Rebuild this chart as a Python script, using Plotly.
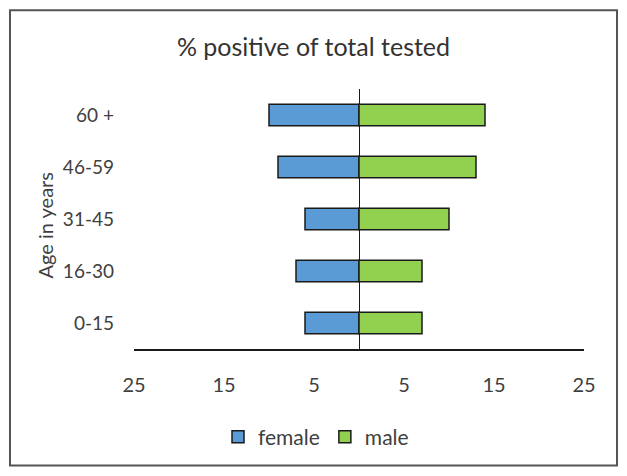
import plotly.graph_objects as go

# Age groups, bottom to top
age_groups = ["0-15", "16-30", "31-45", "46-59", "60 +"]
female_pct = [6, 7, 6, 9, 10]
male_pct = [7, 7, 10, 13, 14]

tick_vals = [-25, -15, -5, 5, 15, 25]
tick_text = ["25", "15", "5", "5", "15", "25"]

FONT = "Lato, 'Open Sans', sans-serif"
TEXT = "#404040"
BLUE = "#5B9BD5"
GREEN = "#92D050"

# the page body has an 8px margin, so the figure is 16px smaller than the window
W, H = 611, 460
OFF = 8
PL, PR, PT, PB = 134 - OFF, 584 - OFF, 89 - OFF, 350 - OFF   # plot area in figure px
PW, PH = PR - PL, PB - PT


def px_x(x):
    return (x - OFF - PL) / PW


def px_y(y):
    return (PB - (y - OFF)) / PH


fig = go.Figure()
fig.add_trace(go.Bar(
    y=age_groups,
    x=[-v for v in female_pct],
    customdata=female_pct,
    name="female",
    orientation="h",
    marker=dict(color=BLUE, line=dict(color="#1a1a1a", width=1.5)),
    hovertemplate="%{y}: %{customdata}%<extra>female</extra>",
))
fig.add_trace(go.Bar(
    y=age_groups,
    x=male_pct,
    name="male",
    orientation="h",
    marker=dict(color=GREEN, line=dict(color="#1a1a1a", width=1.5)),
    hovertemplate="%{y}: %{x}%<extra>male</extra>",
))

fig.update_layout(
    width=W, height=H,
    barmode="relative",
    bargap=0.585,
    paper_bgcolor="white",
    plot_bgcolor="white",
    margin=dict(l=PL, r=W - PR, t=PT, b=H - PB, pad=0),
    font=dict(family=FONT, color=TEXT, size=19),
    title=dict(text="% positive of total tested", x=0.5, xanchor="center",
               y=1 - (47 - OFF) / H, yref="container", yanchor="middle",
               font=dict(size=25, color="#333333")),
    xaxis=dict(
        range=[-25, 25],
        tickvals=tick_vals,
        ticktext=tick_text,
        tickfont=dict(size=20),
        showgrid=False,
        zeroline=True, zerolinecolor="#1a1a1a", zerolinewidth=1.2,
        showline=True, linecolor="#1a1a1a", linewidth=1.5,
        ticks="", ticklabelstandoff=17,
        fixedrange=True,
    ),
    yaxis=dict(
        categoryorder="array", categoryarray=age_groups,
        tickfont=dict(size=19),
        showgrid=False, showline=False, ticks="",
        ticklabelstandoff=19,
        fixedrange=True,
    ),
    legend=dict(
        orientation="h", x=px_x(316), xanchor="center",
        y=px_y(437), yanchor="middle",
        font=dict(size=21), itemwidth=30, traceorder="normal",
        bgcolor="rgba(0,0,0,0)",
    ),
    annotations=[dict(
        text="Age in years", textangle=-90,
        xref="paper", yref="paper", x=px_x(45), y=px_y(226),
        xanchor="center", yanchor="middle",
        showarrow=False, font=dict(size=20, color=TEXT),
    )],
    shapes=[dict(
        type="rect", xref="paper", yref="paper",
        x0=px_x(10), x1=px_x(617),
        y0=px_y(467), y1=px_y(10),
        line=dict(color="#555555", width=2), layer="below",
    )],
)

fig.write_html("out.html")
